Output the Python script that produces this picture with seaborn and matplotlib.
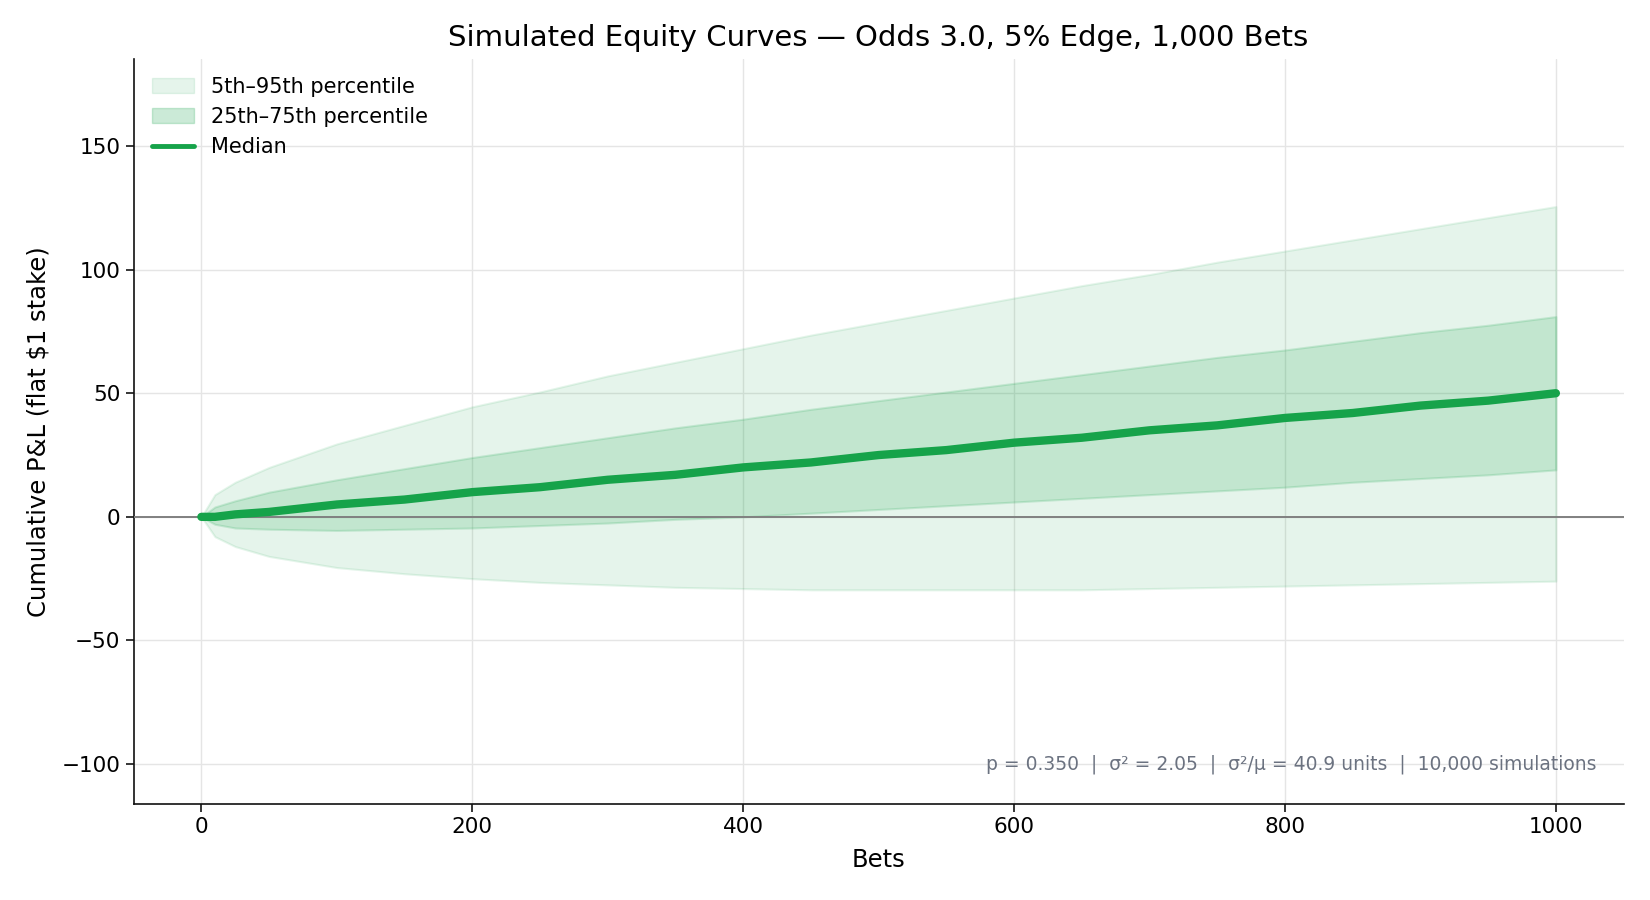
import numpy as np
import pandas as pd
import matplotlib
matplotlib.use('Agg')
import matplotlib.pyplot as plt
import matplotlib.patches as mpatches
from matplotlib.lines import Line2D
import seaborn as sns

# ── Data (bet number -> cumulative P&L percentiles) ──
bets = [0, 10, 25, 50, 100, 150, 200, 250, 300, 350, 400, 450, 500,
        550, 600, 650, 700, 750, 800, 850, 900, 950, 1000]
p95 = [0, 9, 14, 20, 29.5, 37, 44.5, 50.5, 57, 62.5, 68, 73.5, 78.5,
       83.5, 88.5, 93.5, 98, 103, 107.5, 112, 116.5, 121, 125.5]
p75 = [0, 4, 6.5, 10, 15, 19.5, 24, 28, 32, 36, 39.5, 43.5, 47,
       50.5, 54, 57.5, 61, 64.5, 67.5, 71, 74.5, 77.5, 81]
median = [0, 0, 1, 2, 5, 7, 10, 12, 15, 17, 20, 22, 25,
          27, 30, 32, 35, 37, 40, 42, 45, 47, 50]
p25 = [0, -3, -4.5, -5, -5.5, -5, -4.5, -3.5, -2.5, -1, 0, 1.5, 3,
       4.5, 6, 7.5, 9, 10.5, 12, 14, 15.5, 17, 19]
p5 = [0, -8, -12, -16, -20.5, -23, -25, -26.5, -27.5, -28.5, -29, -29.5, -29.5,
      -29.5, -29.5, -29.5, -29, -28.5, -28, -27.5, -27, -26.5, -26]

df = pd.DataFrame({'bets': bets, 'p95': p95, 'p75': p75, 'median': median,
                   'p25': p25, 'p5': p5})

green = '#16a34a'

sns.set_style('white')
plt.rcParams['font.family'] = ['DejaVu Sans']
plt.rcParams['text.color'] = 'black'
plt.rcParams['axes.labelcolor'] = 'black'

fig, ax = plt.subplots(figsize=(16.5, 9), dpi=100)
fig.subplots_adjust(left=0.081, right=0.984, top=0.934, bottom=0.107)

ax.grid(True, color='#e5e5e5', linewidth=1, zorder=0)
ax.set_axisbelow(True)

ax.fill_between(df['bets'], df['p5'], df['p95'], color=green, alpha=0.11,
                linewidth=1.5, zorder=2)
ax.fill_between(df['bets'], df['p25'], df['p75'], color=green, alpha=0.17,
                linewidth=1.5, zorder=3)
ax.axhline(0, color='#808080', linewidth=1.4, zorder=4)
sns.lineplot(data=df, x='bets', y='median', color=green, linewidth=6,
             ax=ax, zorder=5)

ax.set_xlim(-50, 1050)
ax.set_ylim(-116, 185)
ax.set_xticks([0, 200, 400, 600, 800, 1000])
ax.set_yticks([-100, -50, 0, 50, 100, 150])
ax.tick_params(axis='both', labelsize=15.5, length=6, width=1.1, colors='black',
               bottom=True, left=True)

for s in ['top', 'right']:
    ax.spines[s].set_visible(False)
for s in ['left', 'bottom']:
    ax.spines[s].set_color('#111111')
    ax.spines[s].set_linewidth(1.2)

ax.set_title('Simulated Equity Curves — Odds 3.0, 5% Edge, 1,000 Bets',
             fontsize=21, pad=10, color='black')
ax.set_xlabel('Bets', fontsize=17.5, labelpad=8)
ax.set_ylabel('Cumulative P&L (flat $1 stake)', fontsize=17.5, labelpad=8)

handles = [
    mpatches.Patch(facecolor=green, alpha=0.11, edgecolor=green, linewidth=1,
                   label='5th–95th percentile'),
    mpatches.Patch(facecolor=green, alpha=0.22, edgecolor=green, linewidth=1,
                   label='25th–75th percentile'),
    Line2D([0], [0], color=green, linewidth=3.5, label='Median'),
]
ax.legend(handles=handles, loc='upper left', frameon=False, fontsize=15,
          bbox_to_anchor=(0.0, 1.002), handlelength=2.0, labelspacing=0.5,
          labelcolor='black')

ax.text(0.982, 0.053,
        'p = 0.350  |  σ² = 2.05  |  σ²/μ = 40.9 units  |  10,000 simulations',
        transform=ax.transAxes, ha='right', va='center', fontsize=13.5,
        color='#6b7280')

fig.savefig('out.png', dpi=100)
